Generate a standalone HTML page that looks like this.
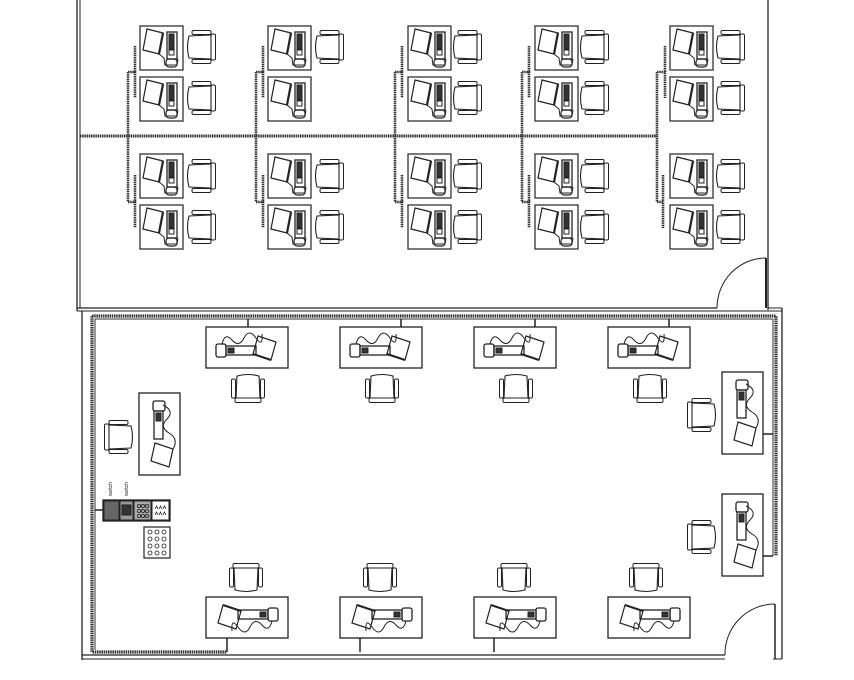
<!DOCTYPE html>
<html><head><style>html,body{margin:0;padding:0;background:#fff}svg{display:block}</style></head>
<body>
<svg width="854" height="680" viewBox="0 0 854 680" xmlns="http://www.w3.org/2000/svg" fill="none" stroke="#222" stroke-width="1">
<defs>
  <g id="ws">
    <rect x="0" y="0" width="43" height="44" stroke="#333" stroke-width="1.3"/>
    <path d="M7,3 L23,7 L19,28 L3,24 Z" stroke-width="1.2"/>
    <path d="M19,28 L23,7" stroke-width="2.2"/>
    <rect x="27" y="6" width="10" height="27" stroke-width="1.3"/>
    <rect x="29" y="8" width="5" height="15" fill="#333"/>
    <rect x="29" y="24" width="5" height="5"/>
    <path d="M19,28 L24,32 L25,39 L37,39 L38,33"/>
    <rect x="26" y="33" width="11" height="8" rx="3" stroke-width="1.2"/>
  </g>
  <g id="chair">
    <path d="M-11,-13 Q0,-16 11,-13 L12,9 L-12,9 Z" stroke-width="1.1"/>
    <rect x="-16.5" y="-10" width="4" height="19" rx="1.5"/>
    <rect x="12.5" y="-10" width="4" height="19" rx="1.5"/>
    <rect x="-13" y="9" width="26" height="4.5" rx="1.5"/>
  </g>
  <g id="desk">
    <rect x="0" y="0" width="82" height="41" stroke-width="1.3"/>
    <rect x="10" y="17" width="10" height="13" rx="2" stroke-width="1.3"/>
    <rect x="20" y="19" width="30" height="9" stroke-width="1.3"/>
    <rect x="22" y="21" width="6" height="5" fill="#333"/>
    <path d="M16,17 q3,-12 10,-4 t12,-2 t12,0 t6,-4"/>
    <path d="M52,9 L70,15 L65,33 L47,27 Z" stroke-width="1.2"/>
    <path d="M47,27 L65,33" stroke-width="2"/>
  </g>
  <g id="vdesk">
    <rect x="0" y="0" width="41" height="82" stroke-width="1.3"/>
    <rect x="14" y="8" width="12" height="10" rx="2" stroke-width="1.3"/>
    <rect x="15" y="18" width="9" height="28" stroke-width="1.3"/>
    <rect x="17" y="20" width="5" height="8" fill="#333"/>
    <path d="M24,12 q12,6 4,14 t2,14 t4,16"/>
    <path d="M16,50 L34,56 L30,74 L12,68 Z" stroke-width="1.2"/>
  </g>
</defs>

<line x1="77" y1="0" x2="77" y2="311" stroke-width="1.3"/>
<line x1="80" y1="0" x2="80" y2="308"/>
<line x1="768" y1="0" x2="768" y2="310" stroke-width="1.3"/>
<line x1="766" y1="258" x2="766" y2="308" stroke-width="2"/>
<path d="M717,308 A49,50 0 0 1 766,258"/>
<line x1="77" y1="308" x2="717" y2="308" stroke-width="1.3"/>
<line x1="77" y1="311" x2="782" y2="311"/>
<line x1="80" y1="136" x2="657" y2="136" stroke="#333" stroke-width="3" stroke-dasharray="1.5 0.7"/>

<g stroke="#333" stroke-width="2.6" stroke-dasharray="1.5 0.7">
  <path d="M128,72 V202 M128,72 H135 V98 M135,46 V72 M128,202 H135 V228 M135,175 V202"/>
  <path d="M256,72 V202 M256,72 H263 V98 M263,46 V72 M256,202 H263 V228 M263,175 V202"/>
  <path d="M395,72 V202 M395,72 H402 V98 M402,46 V72 M395,202 H402 V228 M402,175 V202"/>
  <path d="M522,72 V202 M522,72 H529 V98 M529,46 V72 M522,202 H529 V228 M529,175 V202"/>
  <path d="M657,72 V202 M657,72 H665 V98 M665,46 V72 M657,202 H663 V228 M663,175 V202"/>
</g>
<g>
  <use href="#ws" x="140" y="26"/><use href="#ws" x="140" y="77"/><use href="#ws" x="140" y="154"/><use href="#ws" x="140" y="205"/>
  <use href="#ws" x="268" y="26"/><use href="#ws" x="268" y="77"/><use href="#ws" x="268" y="154"/><use href="#ws" x="268" y="205"/>
  <use href="#ws" x="408" y="26"/><use href="#ws" x="408" y="77"/><use href="#ws" x="408" y="154"/><use href="#ws" x="408" y="205"/>
  <use href="#ws" x="535" y="26"/><use href="#ws" x="535" y="77"/><use href="#ws" x="535" y="154"/><use href="#ws" x="535" y="205"/>
  <use href="#ws" x="670" y="26"/><use href="#ws" x="670" y="77"/><use href="#ws" x="670" y="154"/><use href="#ws" x="670" y="205"/>
</g>
<g>
  <use href="#chair" transform="translate(202,47) rotate(-90)"/><use href="#chair" transform="translate(202,98) rotate(-90)"/>
  <use href="#chair" transform="translate(202,176) rotate(-90)"/><use href="#chair" transform="translate(202,227) rotate(-90)"/>
  <use href="#chair" transform="translate(330,47) rotate(-90)"/>
  <use href="#chair" transform="translate(330,176) rotate(-90)"/><use href="#chair" transform="translate(330,227) rotate(-90)"/>
  <use href="#chair" transform="translate(468,47) rotate(-90)"/><use href="#chair" transform="translate(468,98) rotate(-90)"/>
  <use href="#chair" transform="translate(468,176) rotate(-90)"/><use href="#chair" transform="translate(468,227) rotate(-90)"/>
  <use href="#chair" transform="translate(595,47) rotate(-90)"/><use href="#chair" transform="translate(595,98) rotate(-90)"/>
  <use href="#chair" transform="translate(595,176) rotate(-90)"/><use href="#chair" transform="translate(595,227) rotate(-90)"/>
  <use href="#chair" transform="translate(731,47) rotate(-90)"/><use href="#chair" transform="translate(731,98) rotate(-90)"/>
  <use href="#chair" transform="translate(731,176) rotate(-90)"/><use href="#chair" transform="translate(731,227) rotate(-90)"/>
</g>

<line x1="82" y1="311" x2="82" y2="660" stroke-width="1.3"/>
<line x1="782" y1="308" x2="782" y2="659" stroke-width="1.3"/>
<line x1="768" y1="308" x2="782" y2="308"/>
<line x1="775" y1="604" x2="775" y2="659" stroke-width="1.5"/>
<line x1="773" y1="659" x2="782" y2="659"/>
<path d="M725,655 A50,50 0 0 1 775,604"/>
<line x1="82" y1="655" x2="725" y2="655" stroke-width="1.3"/>
<line x1="82" y1="659" x2="725" y2="659"/>
<g stroke="#333" stroke-width="3.2" stroke-dasharray="1.5 0.7">
  <path d="M92,316 H776 V556 M92,316 V652 H227"/>
</g>
<line x1="95" y1="319" x2="95" y2="650" stroke="#333"/>
<line x1="95" y1="319" x2="773" y2="319" stroke="#333"/>
<line x1="773" y1="319" x2="773" y2="556" stroke="#333"/>
<g stroke-width="1.5">
  <line x1="248" y1="319" x2="248" y2="327"/><line x1="401" y1="319" x2="401" y2="327"/>
  <line x1="535" y1="319" x2="535" y2="327"/><line x1="669" y1="319" x2="669" y2="327"/>
  <line x1="763" y1="434" x2="773" y2="434"/><line x1="763" y1="556" x2="773" y2="556"/>
  <line x1="227" y1="638" x2="227" y2="652"/><line x1="360" y1="638" x2="360" y2="652"/><line x1="494" y1="638" x2="494" y2="652"/>
  <line x1="95" y1="510" x2="103" y2="510"/>
</g>

<use href="#desk" x="206" y="327"/><use href="#desk" x="340" y="327"/><use href="#desk" x="474" y="327"/><use href="#desk" x="608" y="327"/>
<use href="#chair" transform="translate(248,389)"/><use href="#chair" transform="translate(382,389)"/>
<use href="#chair" transform="translate(516,389)"/><use href="#chair" transform="translate(650,389)"/>
<use href="#desk" transform="translate(288,638) rotate(180)"/><use href="#desk" transform="translate(422,638) rotate(180)"/>
<use href="#desk" transform="translate(556,638) rotate(180)"/><use href="#desk" transform="translate(690,638) rotate(180)"/>
<use href="#chair" transform="translate(246,577) rotate(180)"/><use href="#chair" transform="translate(380,577) rotate(180)"/>
<use href="#chair" transform="translate(514,577) rotate(180)"/><use href="#chair" transform="translate(646,577) rotate(180)"/>
<use href="#vdesk" x="722" y="372"/><use href="#vdesk" x="722" y="494"/>
<use href="#chair" transform="translate(701,415) rotate(90)"/><use href="#chair" transform="translate(701,537) rotate(90)"/>
<use href="#vdesk" x="139" y="393"/>
<use href="#chair" transform="translate(118,437) rotate(90)"/>

<g font-family="Liberation Sans, sans-serif" font-size="5" fill="#222" stroke="none">
  <text transform="translate(112,496) rotate(-90)">switch</text>
  <text transform="translate(128,496) rotate(-90)">switch</text>
</g>
<rect x="103" y="500" width="67" height="21" stroke-width="1.3"/>
<rect x="104" y="501" width="15" height="19" fill="#666"/>
<rect x="120" y="501" width="13" height="19" fill="#999"/>
<rect x="122" y="505" width="9" height="10" fill="#333"/>
<rect x="134" y="501" width="17" height="19" fill="#aaa"/>
<rect x="152" y="501" width="17" height="19"/>
<g stroke-width="0.8">
  <circle cx="139" cy="506" r="1.6"/><circle cx="143" cy="506" r="1.6"/><circle cx="147" cy="506" r="1.6"/>
  <circle cx="139" cy="511" r="1.6"/><circle cx="143" cy="511" r="1.6"/><circle cx="147" cy="511" r="1.6"/>
  <circle cx="139" cy="516" r="1.6"/><circle cx="143" cy="516" r="1.6"/><circle cx="147" cy="516" r="1.6"/>
  <path d="M155,509 l1.5,-3 l1.5,3 M159,509 l1.5,-3 l1.5,3 M163,509 l1.5,-3 l1.5,3 M155,515 l1.5,-3 l1.5,3 M159,515 l1.5,-3 l1.5,3 M163,515 l1.5,-3 l1.5,3"/>
</g>
<rect x="144" y="527" width="26" height="31" stroke-width="1.2"/>
<g stroke-width="0.8">
  <circle cx="150" cy="532" r="2"/><circle cx="157" cy="532" r="2"/><circle cx="164" cy="532" r="2"/>
  <circle cx="150" cy="539" r="2"/><circle cx="157" cy="539" r="2"/><circle cx="164" cy="539" r="2"/>
  <circle cx="150" cy="546" r="2"/><circle cx="157" cy="546" r="2"/><circle cx="164" cy="546" r="2"/>
  <circle cx="150" cy="553" r="2"/><circle cx="157" cy="553" r="2"/><circle cx="164" cy="553" r="2"/>
</g>
</svg>
</body></html>
